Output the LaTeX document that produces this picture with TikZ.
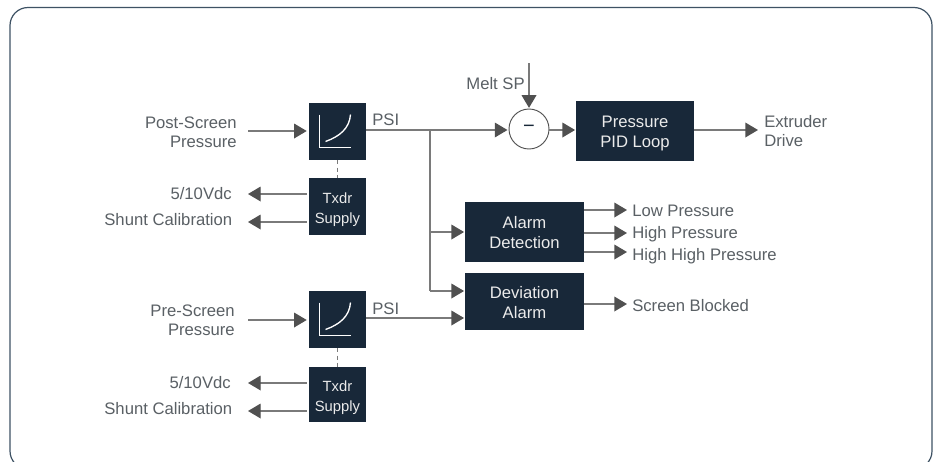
\documentclass[tikz,border=0pt]{standalone}
\usepackage{fontspec}
\setmainfont{Liberation Sans}
\usetikzlibrary{arrows.meta,calc}
\definecolor{boxc}{HTML}{182839}
\definecolor{linec}{HTML}{7A7A7A}
\definecolor{headc}{HTML}{505050}
\definecolor{txtc}{HTML}{5A6065}
\definecolor{framec}{HTML}{3E5264}
\newcommand{\bigf}{\fontsize{12.5pt}{15pt}\selectfont}
\newcommand{\lblf}{\fontsize{12.5pt}{14.3pt}\selectfont}
\newcommand{\smf}{\fontsize{11.1pt}{15pt}\selectfont}
\newcommand{\twol}[2]{\raisebox{-2pt}[\height][\depth]{\begin{tabular}{@{}c@{}}#1\\#2\end{tabular}}}
\tikzset{
  x=0.75pt,y=-0.75pt,
  boxn/.style={fill=boxc,text=white!92!black,inner sep=0pt,align=center,font=\bigf},
  wh/.style 2 args={minimum width=#1*0.75pt,minimum height=#2*0.75pt},
  lbl/.style={text=txtc,inner sep=0pt,font=\lblf,align=#1,yshift=-0.75pt},
  conn/.style={draw=linec,line width=1pt,-{Triangle[length=9.5pt,width=11pt,color=headc]}},
  plain/.style={draw=linec,line width=1pt},
  dashc/.style={draw=linec,line width=0.8pt,dash pattern=on 3pt off 2.5pt},
  icon/.style={draw=white,line width=1pt}
}
\begin{document}
\begin{tikzpicture}
\useasboundingbox (0,0) rectangle (935,461);
\clip (0,0) rectangle (935,461);
\fill[white] (0,0) rectangle (935,461);
\draw[framec,line width=0.9pt,rounded corners=13.5pt] (10,7.5) rectangle (932,469);

% boxes
\node[boxn,wh={57}{57}] (s1) at (337.5,131.5) {};
\node[boxn,wh={57}{57},font=\smf] (t1) at (337.5,206.5) {\twol{Txdr}{Supply}};
\node[boxn,wh={57}{57}] (s2) at (337.5,319.5) {};
\node[boxn,wh={57}{55},font=\smf] (t2) at (337.5,394.5) {\twol{Txdr}{Supply}};
\node[boxn,wh={118}{60}] (pid) at (635,131) {\twol{Pressure}{PID Loop}};
\node[boxn,wh={119}{60}] (ad) at (524.5,232) {\twol{Alarm}{Detection}};
\node[boxn,wh={119}{57}] (da) at (524.5,301.5) {\twol{Deviation}{Alarm}};
\node[circle,draw=headc,fill=white,line width=0.7pt,minimum size=40*0.75pt,inner sep=0pt,text=boxc,font=\fontsize{15pt}{15pt}\selectfont] (sum) at (529,129) {−};

% icons
\foreach \b in {s1,s2}{
  \begin{scope}[shift={(\b.center)}]
    \draw[icon] (-18,-17) -- (-18,16) -- (13,16);
    \draw[icon] (-12,10) .. controls (2,5) and (12,-3) .. (13,-17);
  \end{scope}
}

% labels
\node[lbl=right,anchor=east] (postl) at (237,131) {Post-Screen\\Pressure};
\node[lbl=right,anchor=east] (prel) at (235,319) {Pre-Screen\\Pressure};
\node[lbl=right,anchor=east] (v1) at (232,193) {5/10Vdc};
\node[lbl=right,anchor=east] (sc1) at (232.5,219) {Shunt Calibration};
\node[lbl=right,anchor=east] (v2) at (231,382) {5/10Vdc};
\node[lbl=right,anchor=east] (sc2) at (232.5,408) {Shunt Calibration};
\node[lbl=left,anchor=west] (psi1) at (372,119) {PSI};
\node[lbl=left,anchor=west] (psi2) at (372,308) {PSI};
\node[lbl=right,anchor=east] (melt) at (525,83) {Melt SP};
\node[lbl=left,anchor=west] (ext) at (764,130) {Extruder\\Drive};
\node[lbl=left,anchor=west] (lp) at (632,210) {Low Pressure};
\node[lbl=left,anchor=west] (hp) at (632,233) {High Pressure};
\node[lbl=left,anchor=west] (hhp) at (632,255) {High High Pressure};
\node[lbl=left,anchor=west] (sb) at (632,305) {Screen Blocked};

% free-end coordinates
\coordinate (pin1) at (248,131);
\coordinate (pin2) at (248,320);
\coordinate (o1) at (248,194);
\coordinate (o2) at (248,222);
\coordinate (o3) at (248,383);
\coordinate (o4) at (248,411);
\coordinate (mtop) at (529,63);
\coordinate (j1) at (430,130);
\coordinate (jad) at (430,232);
\coordinate (jda) at (430,291);
\coordinate (eo) at (758,130);
\coordinate (lo) at (627,210);
\coordinate (ho) at (627,233);
\coordinate (hho) at (627,252);
\coordinate (so) at (627,304);

% connectors
\draw[conn,shorten >=1.5pt] (pin1) -- (pin1 -| s1.west);
\draw[conn,shorten >=1.5pt] (pin2) -- (pin2 -| s2.west);
\draw[conn,shorten <=1.5pt] (o1 -| t1.west) -- (o1);
\draw[conn,shorten <=1.5pt] (o2 -| t1.west) -- (o2);
\draw[conn,shorten <=1.5pt] (o3 -| t2.west) -- (o3);
\draw[conn,shorten <=1.5pt] (o4 -| t2.west) -- (o4);
\draw[dashc] (s1.south) -- (t1.north);
\draw[dashc] (s2.south) -- (t2.north);
\draw[conn,shorten >=0.8pt] (j1 -| s1.east) -- (j1 -| sum.west);
\draw[conn,shorten >=0.5pt] (mtop) -- (sum.north);
\draw[conn,shorten >=0.5pt] (j1 -| sum.east) -- (j1 -| pid.west);
\draw[plain] (j1) -- (jda);
\draw[conn,shorten >=0.5pt] (jad) -- (jad -| ad.west);
\draw[conn,shorten >=0.5pt] (jda) -- (jda -| da.west);
\draw[conn,shorten >=0.5pt] (s2.east |- 0,318) -- (da.west |- 0,318);
\draw[conn] (j1 -| pid.east) -- (eo);
\draw[conn] (lo -| ad.east) -- (lo);
\draw[conn] (ho -| ad.east) -- (ho);
\draw[conn] (hho -| ad.east) -- (hho);
\draw[conn] (so -| da.east) -- (so);
\end{tikzpicture}
\end{document}
